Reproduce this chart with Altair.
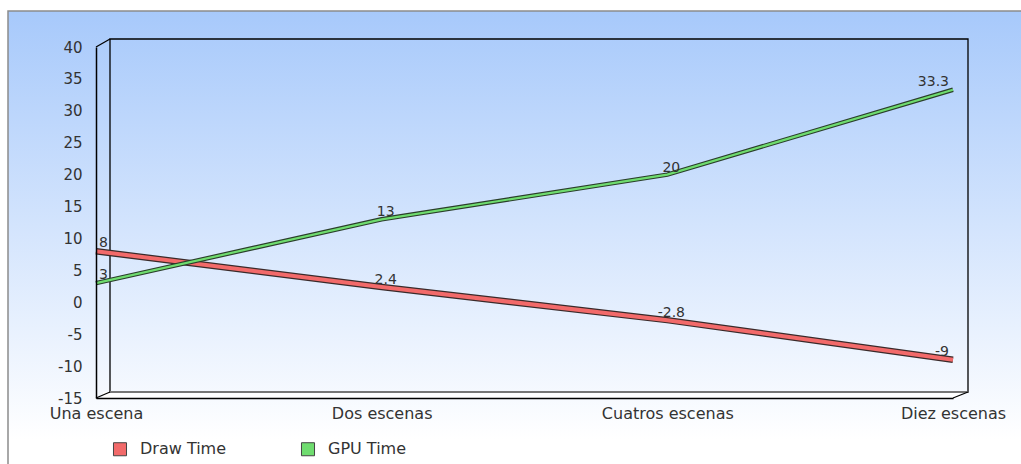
import altair as alt
import pandas as pd

categories = ["Una escena", "Dos escenas", "Cuatros escenas", "Diez escenas"]
draw_time = [8, 2.4, -2.8, -9]
gpu_time = [3, 13, 20, 33.3]
series_names = ["Draw Time", "GPU Time"]
series_colors = ["#f26a6a", "#6fdc6f"]
outline_colors = ["#3a2a2a", "#2a3f2a"]
outline_widths = [6.5, 4.5]
inner_widths = [4, 2.2]
y_ticks = [-15, -10, -5, 0, 5, 10, 15, 20, 25, 30, 35, 40]

rows = []
for i, c in enumerate(categories):
    pos = "first" if i == 0 else ("last" if i == len(categories) - 1 else "mid")
    for s, vals in zip(series_names, [draw_time, gpu_time]):
        rows.append(dict(cat=c, series=s, value=vals[i], pos=pos, lbl=f"{vals[i]:g}"))
df = pd.DataFrame(rows)
one = pd.DataFrame({"k": [0]})
# legend-only rows (no position -> no mark drawn, legend still built from the scale)
legend_df = pd.DataFrame({"series": series_names, "value": [None, None]})

W, H = 857, 351
FONT = "DejaVu Sans"

x_enc = alt.X("cat:N", sort=categories,
              scale=alt.Scale(type="point", domain=categories, padding=0),
              axis=alt.Axis(title=None, labelAngle=0, labelFontSize=16, labelColor="#333",
                            labelPadding=7, ticks=False, domainColor="#000", domainWidth=1.5,
                            labelFlush=False, grid=False, labelFont=FONT, zindex=1,
                            labelOverlap=False))
y_enc = alt.Y("value:Q",
              scale=alt.Scale(domain=[-15, 40], nice=False, zero=False),
              axis=alt.Axis(title=None, values=y_ticks, labelExpr="datum.value + ''",
                            labelFontSize=15, labelColor="#333", labelPadding=14, ticks=False,
                            domainColor="#000", domainWidth=1.5, grid=False, labelFont=FONT,
                            zindex=1, labelOverlap=False))

# background frame with gradient
bg = alt.Chart(one).mark_rect(
    stroke="#8c8c8c", strokeWidth=1.5,
    fill=alt.Gradient(gradient="linear",
                      stops=[alt.GradientStop(color="#a7c9fb", offset=0),
                             alt.GradientStop(color="#ffffff", offset=0.92)],
                      x1=0, x2=0, y1=0, y2=1)
).encode(x=alt.value(-88), x2=alt.value(940), y=alt.value(-36), y2=alt.value(430))

floor = alt.Chart(one).mark_rect(fill="#ffffff").encode(
    x=alt.value(7), x2=alt.value(865), y=alt.value(345), y2=alt.value(351))

back_wall = alt.Chart(one).mark_rect(fillOpacity=0, stroke="#000", strokeWidth=1.3).encode(
    x=alt.value(14), x2=alt.value(872), y=alt.value(-8), y2=alt.value(345))

back_floor = alt.Chart(one).mark_rule(color="#777", strokeWidth=2).encode(
    x=alt.value(14), x2=alt.value(872), y=alt.value(345), y2=alt.value(345))

def diag(x1, y1, x2, y2):
    return alt.Chart(one).mark_rule(color="#000", strokeWidth=1.2).encode(
        x=alt.value(x1), y=alt.value(y1), x2=alt.value(x2), y2=alt.value(y2))

d1 = diag(0, 0, 14, -8)
d2 = diag(0, 351, 14, 345)
d3 = diag(857, 351, 872, 345)

base = alt.Chart(df)

line_layers = []
for s, col, oc, ow, iw in zip(series_names, series_colors, outline_colors, outline_widths, inner_widths):
    line_layers.append(base.mark_line(color=oc, strokeWidth=ow).encode(x=x_enc, y=y_enc)
                       .transform_filter(alt.datum.series == s))
    line_layers.append(base.mark_line(color=col, strokeWidth=iw).encode(x=x_enc, y=y_enc)
                       .transform_filter(alt.datum.series == s))

legend_pts = alt.Chart(legend_df).mark_point(shape="square", filled=True, size=170,
                                             stroke="#444", strokeWidth=1, opacity=1).encode(
    y=y_enc,
    color=alt.Color("series:N", scale=alt.Scale(domain=series_names, range=series_colors),
                    legend=alt.Legend(title=None, orient="none", legendX=16, legendY=394,
                                      direction="horizontal", symbolType="square",
                                      symbolSize=170, symbolStrokeColor="#444",
                                      symbolStrokeWidth=1, labelFontSize=16, labelFont=FONT,
                                      labelColor="#333", labelOffset=12, columnPadding=72,
                                      symbolOpacity=1)))

def txt(pos, align, dx, dy):
    return base.mark_text(align=align, dx=dx, dy=dy, fontSize=14, color="#333", font=FONT).encode(
        x=x_enc, y=y_enc, text="lbl:N").transform_filter(alt.datum.pos == pos)

t1 = txt("first", "left", 3, -8)
t2 = txt("mid", "center", 4, -7)
t3 = txt("last", "right", -4, -8)

chart = alt.layer(bg, floor, back_wall, back_floor, d1, d2, d3, legend_pts,
                  *line_layers, t1, t2, t3).properties(
    width=W, height=H,
    autosize=alt.AutoSizeParams(type="none"),
    padding={"left": 96, "top": 47, "right": 68, "bottom": 66},
    background="#ffffff",
).configure_view(strokeWidth=0).configure(font=FONT)

chart.save("out.html", embed_options={"renderer": "svg", "actions": False})
